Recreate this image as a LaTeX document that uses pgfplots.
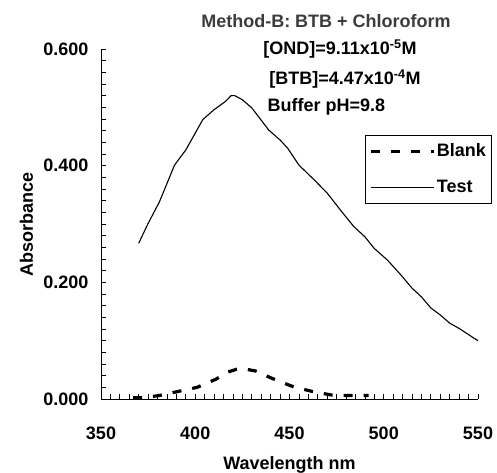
\documentclass[border=0pt]{standalone}
\usepackage{fontspec}
\setmainfont{Liberation Sans}
\usepackage{pgfplots}
\pgfplotsset{compat=1.18}
\definecolor{titlegray}{RGB}{60,60,60}

\pgfplotstableread{
x y
370 0.267
375 0.301
381 0.338
389 0.401
395 0.427
404 0.479
410 0.496
416 0.510
419 0.520
421 0.520
425 0.513
430 0.499
439 0.461
445 0.444
449 0.430
455 0.401
463 0.376
470 0.353
477 0.324
484 0.296
490 0.278
495 0.258
502 0.238
509 0.213
515 0.190
520 0.175
525 0.156
530 0.144
535 0.130
540 0.121
548 0.104
550 0.100
}\testdata

\pgfplotstableread{
x y
367 0.002
372 0.002
381 0.006
391 0.013
401 0.020
411 0.034
417 0.046
422 0.051
427 0.051
432 0.048
441 0.035
452 0.021
462 0.013
472 0.007
481 0.006
492 0.006
}\blankdata

\begin{document}
\begin{tikzpicture}[font=\fontsize{18}{21}\selectfont\bfseries]
\useasboundingbox (0pt,0pt) rectangle (497pt,472pt);
\begin{axis}[
  at={(101pt,73pt)}, anchor=south west,
  scale only axis, width=377pt, height=350pt,
  xmin=350, xmax=550, ymin=0, ymax=0.6,
  axis x line=bottom, axis y line=left,
  axis line style={-, line width=1pt, black},
  xtick={350,400,450,500,550}, minor x tick num=9,
  ytick={0,0.2,0.4,0.6}, minor y tick num=9,
  tick align=inside, major tick length=5pt, minor tick length=5pt,
  tick style={black, line width=0.8pt},
  /pgf/number format/assume math mode=true,
  yticklabel style={/pgf/number format/fixed, /pgf/number format/fixed zerofill, /pgf/number format/precision=3, xshift=-9pt},
  xticklabel style={yshift=-24pt},
  every axis y label/.style={at={(rel axis cs:-0.1804,0.5)}, rotate=90, anchor=base},
  every axis x label/.style={at={(rel axis cs:0.5,-0.2)}, anchor=base},
  xlabel={Wavelength nm},
  ylabel={Absorbance},
  clip=false,
  legend cell align=left,
  legend style={at={(rel axis cs:0.70,0.754)}, anchor=north west,
    draw=black, line width=0.6pt, inner xsep=4pt, inner ysep=7pt,
    row sep=19pt, column sep=0pt,
    nodes={inner sep=1.5pt}},
  legend image code/.code={\draw[#1] (0pt,0pt) -- (63pt,0pt);},
]
\addplot[black, line width=3.2pt, dash pattern=on 9pt off 11pt] table[x=x,y=y] {\blankdata};
\addlegendentry{Blank}
\addplot[black, line width=1.1pt] table[x=x,y=y] {\testdata};
\addlegendentry{Test}
\end{axis}
\node[anchor=base, text=titlegray] at (326pt,444pt) {Method-B: BTB + Chloroform};
\node[anchor=base] at (340pt,417pt) {[OND]=9.11x10\textsuperscript{-5}M};
\node[anchor=base] at (345pt,387pt) {[BTB]=4.47x10\textsuperscript{-4}M};
\node[anchor=base] at (326.5pt,360pt) {Buffer pH=9.8};
\end{tikzpicture}
\end{document}
